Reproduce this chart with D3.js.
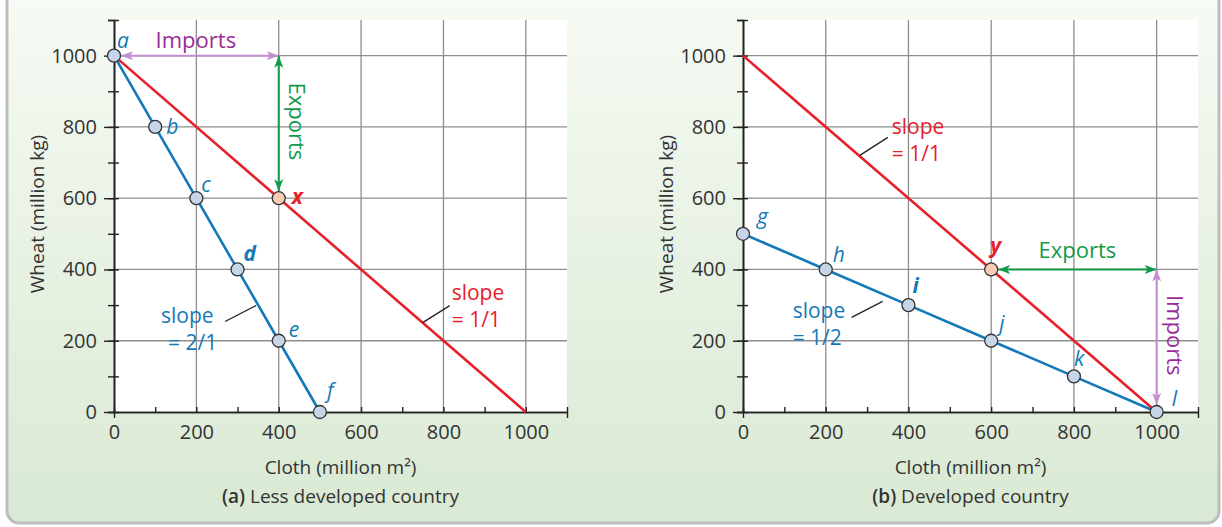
<!DOCTYPE html>
<html>
<head>
<meta charset="utf-8">
<script src="https://cdn.jsdelivr.net/npm/d3@7"></script>
<style>
  body { margin: 0; background: #fff; }
  text { font-family: "Open Sans", "Liberation Sans", sans-serif; }
</style>
</head>
<body>
<svg id="chart" width="1222" height="527"></svg>
<script>
// axis ticks
var majorTicks = [0, 200, 400, 600, 800, 1000];
var minorTicks = [0, 100, 200, 300, 400, 500, 600, 700, 800, 900, 1000, 1100];

// trade line (same for both countries): slope 1/1
var tradeCloth = [0, 1000];
var tradeWheat = [1000, 0];

// (a) less developed country production possibilities
var ldcCloth = [0, 100, 200, 300, 400, 500];
var ldcWheat = [1000, 800, 600, 400, 200, 0];
var ldcLabels = ["a", "b", "c", "d", "e", "f"];
var ldcTrade = [400, 600];          // point x
var ldcCorner = [400, 1000];        // end of imports / start of exports

// (b) developed country production possibilities
var dcCloth = [0, 200, 400, 600, 800, 1000];
var dcWheat = [500, 400, 300, 200, 100, 0];
var dcLabels = ["g", "h", "i", "j", "k", "l"];
var dcTrade = [600, 400];           // point y
var dcCorner = [1000, 400];

var blue = "#1479b8", red = "#e8202a", green = "#12994a",
    purpleLine = "#c28ed0", purpleText = "#9a2c98";

var svg = d3.select("#chart");
var defs = svg.append("defs");

var grad = defs.append("linearGradient")
    .attr("id", "bg").attr("x1", 0).attr("y1", 0).attr("x2", 0).attr("y2", 1);
grad.append("stop").attr("offset", "0%").attr("stop-color", "#f7fbf5");
grad.append("stop").attr("offset", "100%").attr("stop-color", "#d9e9d3");

function marker(id, col) {
    defs.append("marker")
        .attr("id", id)
        .attr("viewBox", "0 0 12 9")
        .attr("refX", 12).attr("refY", 4.5)
        .attr("markerWidth", 13).attr("markerHeight", 9)
        .attr("markerUnits", "userSpaceOnUse")
        .attr("orient", "auto-start-reverse")
        .append("path")
        .attr("d", "M0,0 L12,4.5 L0,9 L3,4.5 z")
        .attr("fill", col);
}
marker("arrGreen", green);
marker("arrPurple", purpleLine);

// frame
svg.append("rect")
    .attr("x", 7).attr("y", -20)
    .attr("width", 1212).attr("height", 543)
    .attr("rx", 12)
    .attr("fill", "url(#bg)")
    .attr("stroke", "#bdbdbd")
    .attr("stroke-width", 3);

function drawPanel(cfg) {
    var W = cfg.width, H = 392;
    var g = svg.append("g")
        .attr("transform", "translate(" + cfg.left + ",20)");

    var x = d3.scaleLinear().domain([0, 1100]).range([0, W]);
    var y = d3.scaleLinear().domain([0, 1100]).range([H, 0]);

    g.append("rect")
        .attr("width", W).attr("height", H)
        .attr("fill", "#fff");

    // grid
    g.append("g").selectAll("line")
        .data(majorTicks.slice(1))
        .enter().append("line")
        .attr("x1", d => x(d)).attr("x2", d => x(d))
        .attr("y1", y(0)).attr("y2", 0)
        .attr("stroke", "#8d8d8d").attr("stroke-width", 1.3);
    g.append("g").selectAll("line")
        .data(majorTicks.slice(1))
        .enter().append("line")
        .attr("y1", d => y(d)).attr("y2", d => y(d))
        .attr("x1", 0).attr("x2", W)
        .attr("stroke", "#8d8d8d").attr("stroke-width", 1.3);

    // y axis
    var yMinor = g.append("g")
        .call(d3.axisLeft(y).tickValues(minorTicks).tickSize(6).tickFormat(""));
    yMinor.selectAll(".tick line").attr("x1", 5);
    var yAxis = g.append("g")
        .call(d3.axisLeft(y).tickValues(majorTicks).tickSize(10).tickPadding(7)
            .tickSizeOuter(0).tickFormat(d3.format("d")));

    // x axis
    var xMinor = g.append("g")
        .attr("transform", "translate(0," + H + ")")
        .call(d3.axisBottom(x).tickValues(minorTicks).tickSize(-5).tickFormat("").tickSizeOuter(0));
    xMinor.selectAll(".tick line")
        .attr("y1", d => (d === 0 || d === 1100) ? 6 : 0);
    var xAxis = g.append("g")
        .attr("transform", "translate(0," + H + ")")
        .call(d3.axisBottom(x).tickValues(majorTicks).tickSize(0).tickPadding(13)
            .tickSizeOuter(0).tickFormat(d3.format("d")));

    [yMinor, yAxis, xMinor, xAxis].forEach(function (a) {
        a.attr("font-family", null).attr("font-size", null);
        a.selectAll("path.domain").attr("stroke", "#222").attr("stroke-width", 1.6);
        a.selectAll(".tick line").attr("stroke", "#222").attr("stroke-width", 1.4);
        a.selectAll(".tick text").attr("font-size", 20).attr("fill", "#333");
    });

    // axis titles
    g.append("text")
        .attr("x", W / 2).attr("y", 454)
        .attr("text-anchor", "middle")
        .attr("font-size", 19).attr("fill", "#333")
        .text("Cloth (million m²)");
    g.append("text")
        .attr("transform", "translate(-70," + (H / 2 - 2) + ") rotate(-90)")
        .attr("text-anchor", "middle")
        .attr("font-size", 19).attr("fill", "#333")
        .text("Wheat (million kg)");
    var cap = g.append("text")
        .attr("x", W / 2).attr("y", 483)
        .attr("text-anchor", "middle")
        .attr("font-size", 19).attr("fill", "#333");
    cap.append("tspan").attr("font-weight", 600).text(cfg.tag);
    cap.append("tspan").text(" " + cfg.caption);

    var line = d3.line().x(d => x(d[0])).y(d => y(d[1]));

    // trade line
    g.append("path")
        .attr("d", line(d3.zip(tradeCloth, tradeWheat)))
        .attr("fill", "none").attr("stroke", red).attr("stroke-width", 2.6);

    // production possibility line
    var pts = d3.zip(cfg.cloth, cfg.wheat);
    g.append("path")
        .attr("d", line(pts))
        .attr("fill", "none").attr("stroke", blue).attr("stroke-width", 2.6);

    // slope annotations
    cfg.slopes.forEach(function (s) {
        var ax = x(s.at[0]) + s.lead[0], ay = y(s.at[1]) + s.lead[1];
        g.append("line")
            .attr("x1", ax).attr("y1", ay)
            .attr("x2", ax + s.lead[2]).attr("y2", ay + s.lead[3])
            .attr("stroke", "#222").attr("stroke-width", 1.3);
        var t = g.append("text")
            .attr("font-size", 21).attr("fill", s.color);
        t.append("tspan").attr("x", ax + s.text[0]).attr("y", ay + s.text[1]).text("slope");
        t.append("tspan").attr("x", ax + s.text[0] + s.text[2]).attr("y", ay + s.text[1] + 27).text(s.value);
    });

    // arrows
    cfg.arrows.forEach(function (a) {
        var x1 = x(a.from[0]) + a.trim[0], y1 = y(a.from[1]) + a.trim[1];
        var x2 = x(a.to[0]) + a.trim[2], y2 = y(a.to[1]) + a.trim[3];
        g.append("line")
            .attr("x1", x1).attr("y1", y1).attr("x2", x2).attr("y2", y2)
            .attr("stroke", a.line).attr("stroke-width", 2)
            .attr("marker-start", "url(#" + a.marker + ")")
            .attr("marker-end", "url(#" + a.marker + ")");
        var mx = (x1 + x2) / 2 + a.label[0], my = (y1 + y2) / 2 + a.label[1];
        g.append("text")
            .attr("transform", "translate(" + mx + "," + my + ") rotate(" + a.label[2] + ")")
            .attr("text-anchor", "middle")
            .attr("font-size", 22).attr("fill", a.text)
            .text(a.name);
    });

    // points
    g.append("g").selectAll("circle")
        .data(pts)
        .enter().append("circle")
        .attr("cx", d => x(d[0])).attr("cy", d => y(d[1]))
        .attr("r", 6.5)
        .attr("fill", "#c6d5e8").attr("stroke", "#333").attr("stroke-width", 1.3);
    g.append("circle")
        .attr("cx", x(cfg.trade[0])).attr("cy", y(cfg.trade[1]))
        .attr("r", 6.5)
        .attr("fill", "#f8cbb3").attr("stroke", "#333").attr("stroke-width", 1.3);

    // point labels
    g.append("g").selectAll("text")
        .data(pts)
        .enter().append("text")
        .attr("x", (d, i) => x(d[0]) + cfg.offsets[i][0])
        .attr("y", (d, i) => y(d[1]) + cfg.offsets[i][1])
        .attr("font-size", 21).attr("font-style", "italic")
        .attr("font-weight", (d, i) => cfg.bold === i ? 700 : 400)
        .attr("fill", blue)
        .text((d, i) => cfg.labels[i]);
    g.append("text")
        .attr("x", x(cfg.trade[0]) + cfg.tradeOffset[0])
        .attr("y", y(cfg.trade[1]) + cfg.tradeOffset[1])
        .attr("font-size", 21).attr("font-style", "italic").attr("font-weight", 700)
        .attr("fill", red)
        .text(cfg.tradeLabel);
}

drawPanel({
    left: 114, width: 453,
    tag: "(a)", caption: "Less developed country",
    cloth: ldcCloth, wheat: ldcWheat, labels: ldcLabels,
    offsets: [[3, -8], [11, 7], [5, -6], [6, -8], [10, -4], [7, -14]],
    bold: 3,
    trade: ldcTrade, tradeLabel: "x", tradeOffset: [13, 6],
    slopes: [
        { at: [345, 310], lead: [0, 4, -31, 16], text: [-95, 17, 7], value: "= 2/1", color: blue },
        { at: [752, 248], lead: [-1, -1, 27, -17], text: [29, -23, 0], value: "= 1/1", color: red }
    ],
    arrows: [
        { from: [0, 1000], to: ldcCorner, trim: [7, 0, 0, 0], line: purpleLine, text: purpleText,
          marker: "arrPurple", name: "Imports", label: [-4, -8, 0] },
        { from: ldcCorner, to: ldcTrade, trim: [0, 0, 0, -7], line: green, text: green,
          marker: "arrGreen", name: "Exports", label: [10, -2, 90] }
    ]
});

drawPanel({
    left: 743, width: 455,
    tag: "(b)", caption: "Developed country",
    cloth: dcCloth, wheat: dcWheat, labels: dcLabels,
    offsets: [[14, -10], [7, -7], [4, -12], [8, -10], [0, -10], [15, -6]],
    bold: 2,
    trade: dcTrade, tradeLabel: "y", tradeOffset: [-1, -16],
    slopes: [
        { at: [280, 720], lead: [1, 0, 28, -18], text: [32, -21, 0], value: "= 1/1", color: red },
        { at: [340, 330], lead: [-1, 7, -31, 16], text: [-90, 17, 0], value: "= 1/2", color: blue }
    ],
    arrows: [
        { from: dcTrade, to: dcCorner, trim: [7, 0, 0, 0], line: green, text: green,
          marker: "arrGreen", name: "Exports", label: [0, -11, 0] },
        { from: dcCorner, to: [1000, 0], trim: [0, 0, 0, -7], line: purpleLine, text: purpleText,
          marker: "arrPurple", name: "Imports", label: [10, -2, 90] }
    ]
});
</script>
</body>
</html>
